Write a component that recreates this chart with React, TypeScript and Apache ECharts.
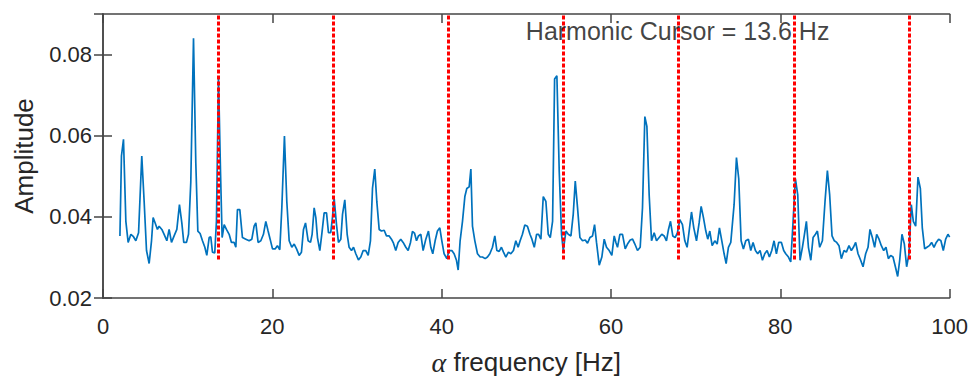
import React, { useEffect, useRef } from "react";
import * as echarts from "echarts";

const freq: number[] = [
  2.0, 2.18, 2.42, 2.7, 2.97, 3.29, 3.6, 3.88, 4.2, 4.58, 4.86, 5.14, 5.45, 5.73, 5.92, 6.16, 6.43, 6.63, 6.95, 7.22,
  7.54, 7.81, 8.09, 8.4, 8.72, 9.03, 9.31, 9.54, 9.86, 10.1, 10.37, 10.69, 10.96, 11.2, 11.47, 11.75, 12.03, 12.26, 12.54, 12.73,
  12.93, 13.2, 13.4, 13.64, 13.88, 14.07, 14.31, 14.58, 14.9, 15.17, 15.49, 15.69, 15.88, 16.16, 16.47, 16.87, 17.26, 17.58, 17.85, 18.05,
  18.32, 18.64, 18.95, 19.23, 19.5, 19.74, 20.02, 20.33, 20.6, 20.88, 21.12, 21.43, 21.71, 21.99, 22.3, 22.58, 22.86, 23.17, 23.44, 23.68,
  23.92, 24.23, 24.51, 24.7, 24.94, 25.14, 25.33, 25.61, 25.84, 26.12, 26.4, 26.63, 26.9, 27.1, 27.3, 27.58, 27.81, 28.09, 28.29, 28.56,
  28.84, 29.07, 29.35, 29.59, 29.86, 30.17, 30.45, 30.73, 31.04, 31.32, 31.59, 31.83, 32.1, 32.34, 32.62, 32.89, 33.21, 33.48, 33.8, 34.07,
  34.31, 34.58, 34.86, 35.17, 35.45, 35.77, 36.04, 36.32, 36.55, 36.79, 37.03, 37.26, 37.54, 37.81, 38.13, 38.44, 38.72, 38.95, 39.23, 39.5,
  39.78, 40.02, 40.29, 40.61, 40.88, 41.2, 41.47, 41.75, 41.95, 42.18, 42.46, 42.74, 42.97, 43.25, 43.45, 43.64, 43.92, 44.23, 44.55, 44.82,
  45.14, 45.41, 45.69, 46.0, 46.28, 46.52, 46.79, 47.06, 47.3, 47.58, 47.89, 48.17, 48.48, 48.76, 49.03, 49.27, 49.54, 49.82, 50.13, 50.43,
  50.66, 50.94, 51.21, 51.45, 51.72, 52.0, 52.31, 52.59, 52.83, 53.1, 53.34, 53.61, 53.89, 54.16, 54.36, 54.68, 54.95, 55.27, 55.54, 55.78,
  56.05, 56.33, 56.64, 56.96, 57.23, 57.51, 57.82, 58.06, 58.29, 58.61, 58.92, 59.2, 59.47, 59.79, 60.1, 60.38, 60.58, 60.77, 61.05, 61.36,
  61.68, 61.95, 62.27, 62.55, 62.82, 63.13, 63.45, 63.72, 64.0, 64.24, 64.51, 64.79, 65.1, 65.38, 65.69, 66.0, 66.28, 66.55, 66.79, 67.03,
  67.3, 67.58, 67.85, 68.13, 68.44, 68.72, 68.99, 69.23, 69.51, 69.78, 70.1, 70.41, 70.65, 70.92, 71.2, 71.43, 71.67, 71.95, 72.26, 72.54,
  72.81, 73.09, 73.36, 73.6, 73.87, 74.15, 74.54, 74.82, 75.09, 75.37, 75.64, 75.92, 76.23, 76.51, 76.78, 77.06, 77.33, 77.61, 77.89, 78.16,
  78.44, 78.71, 78.99, 79.26, 79.54, 79.81, 80.13, 80.4, 80.64, 80.96, 81.23, 81.51, 81.78, 82.06, 82.33, 82.61, 82.85, 83.08, 83.32, 83.6,
  83.87, 84.15, 84.38, 84.65, 84.97, 85.28, 85.56, 85.83, 86.11, 86.38, 86.66, 86.93, 87.21, 87.52, 87.8, 88.11, 88.39, 88.63, 88.9, 89.18,
  89.49, 89.77, 90.08, 90.36, 90.59, 90.87, 91.14, 91.38, 91.66, 91.93, 92.21, 92.48, 92.76, 93.03, 93.31, 93.59, 93.86, 94.1, 94.37, 94.65,
  94.92, 95.2, 95.47, 95.71, 95.99, 96.26, 96.54, 96.77, 97.05, 97.32, 97.6, 97.87, 98.15, 98.42, 98.7, 98.97, 99.25, 99.53, 99.8, 100.0,
];

const amplitude: number[] = [
  0.0353, 0.055, 0.0591, 0.0389, 0.0337, 0.0357, 0.0351, 0.0341, 0.0361, 0.055, 0.0438, 0.0317, 0.0285, 0.0341, 0.0398, 0.0385, 0.0369, 0.0377, 0.0369, 0.0357,
  0.0341, 0.0369, 0.0337, 0.0353, 0.0369, 0.043, 0.0385, 0.0337, 0.0337, 0.0357, 0.0486, 0.084, 0.0534, 0.0365, 0.0359, 0.0341, 0.0325, 0.0305, 0.0349, 0.0351,
  0.0313, 0.0311, 0.0389, 0.0744, 0.051, 0.0349, 0.0381, 0.0369, 0.0357, 0.0337, 0.0337, 0.0325, 0.0418, 0.0418, 0.0349, 0.0345, 0.0341, 0.0345, 0.0377, 0.0385,
  0.0337, 0.0341, 0.0357, 0.0389, 0.0365, 0.0345, 0.0321, 0.0321, 0.0329, 0.0319, 0.0422, 0.0599, 0.0438, 0.0341, 0.0325, 0.0333, 0.0321, 0.0305, 0.0313, 0.0369,
  0.0385, 0.0341, 0.0337, 0.0357, 0.0422, 0.0398, 0.0349, 0.0317, 0.0357, 0.041, 0.041, 0.0361, 0.0361, 0.0398, 0.0446, 0.0381, 0.0337, 0.0345, 0.0406, 0.0442,
  0.0357, 0.0325, 0.0317, 0.0325, 0.0309, 0.0294, 0.0301, 0.0317, 0.0317, 0.0305, 0.0341, 0.047, 0.0518, 0.0438, 0.0369, 0.0365, 0.0367, 0.0353, 0.0353, 0.0345,
  0.0335, 0.0317, 0.0337, 0.0345, 0.0337, 0.0325, 0.0317, 0.0337, 0.0364, 0.036, 0.0341, 0.0353, 0.0357, 0.0317, 0.0345, 0.0365, 0.0325, 0.0309, 0.0341, 0.0365,
  0.0373, 0.0341, 0.0309, 0.0297, 0.0317, 0.0317, 0.0309, 0.0293, 0.0269, 0.0341, 0.0389, 0.045, 0.047, 0.0474, 0.0518, 0.0377, 0.0341, 0.0309, 0.0301, 0.0301,
  0.0297, 0.0301, 0.0309, 0.0325, 0.0353, 0.0317, 0.0315, 0.0325, 0.0313, 0.0301, 0.0313, 0.0309, 0.0317, 0.0341, 0.0325, 0.0341, 0.0357, 0.038, 0.0377, 0.0357,
  0.0345, 0.0325, 0.0357, 0.0357, 0.0345, 0.045, 0.0438, 0.0357, 0.0349, 0.0389, 0.074, 0.0748, 0.051, 0.0357, 0.0317, 0.0365, 0.0357, 0.0353, 0.0406, 0.0488,
  0.0422, 0.0349, 0.0341, 0.0343, 0.0335, 0.0349, 0.0353, 0.0381, 0.0337, 0.0281, 0.0301, 0.0345, 0.0325, 0.0317, 0.0305, 0.0353, 0.0337, 0.0325, 0.0357, 0.0357,
  0.0321, 0.0333, 0.0343, 0.0345, 0.0333, 0.0317, 0.0325, 0.0422, 0.0647, 0.0623, 0.0454, 0.0341, 0.0361, 0.0341, 0.0349, 0.0357, 0.0353, 0.0341, 0.0369, 0.0389,
  0.0353, 0.0349, 0.0361, 0.0393, 0.0381, 0.0341, 0.0325, 0.0365, 0.0412, 0.0373, 0.0341, 0.0385, 0.0426, 0.0398, 0.0365, 0.0345, 0.0365, 0.0329, 0.0341, 0.0333,
  0.0373, 0.0341, 0.0309, 0.0285, 0.0325, 0.0337, 0.043, 0.0546, 0.0494, 0.0341, 0.0321, 0.0341, 0.0345, 0.0317, 0.0337, 0.0317, 0.0309, 0.0317, 0.0293, 0.0309,
  0.0317, 0.0301, 0.0317, 0.0341, 0.0309, 0.0337, 0.0337, 0.0317, 0.0309, 0.0301, 0.0289, 0.0389, 0.0494, 0.0454, 0.0293, 0.0325, 0.0357, 0.0389, 0.0325, 0.0293,
  0.0349, 0.0357, 0.0365, 0.0325, 0.0341, 0.0438, 0.0514, 0.0454, 0.0353, 0.0341, 0.0337, 0.0329, 0.0297, 0.0317, 0.0313, 0.0329, 0.0317, 0.0325, 0.0337, 0.0309,
  0.0293, 0.0277, 0.0309, 0.0325, 0.0369, 0.0349, 0.0325, 0.0357, 0.0345, 0.0329, 0.0317, 0.0325, 0.0297, 0.0305, 0.0301, 0.0277, 0.0253, 0.0293, 0.0357, 0.0333,
  0.0277, 0.0309, 0.043, 0.0389, 0.0377, 0.0498, 0.047, 0.0373, 0.0321, 0.0325, 0.0329, 0.0337, 0.0325, 0.0337, 0.0345, 0.0341, 0.0317, 0.0345, 0.0357, 0.035,
];

const cursorHz = 13.6;
const harmonics: number[] = [13.6, 27.2, 40.8, 54.4, 68.0, 81.6, 95.2];
const cursorLineRange: [number, number] = [0.0295, 0.09];
const xTicks = { min: 0, max: 100, interval: 20 };
const yTicks = { min: 0.02, max: 0.09, interval: 0.02 };
const annotationPos: [number, number] = [50, 0.0858];
const annotationText = `Harmonic Cursor = ${cursorHz} Hz`;

const FONT = "'Liberation Sans', Arial, Helvetica, sans-serif";
const AXIS_COLOR = "#454545";
const TEXT_COLOR = "#262626";

export default function App() {
  const ref = useRef<HTMLDivElement>(null);

  useEffect(() => {
    if (!ref.current) return;
    const chart = echarts.init(ref.current, undefined, { renderer: "svg" });

    const lineData = freq.map((f, i) => [f, amplitude[i]]);
    const axisLine = { show: true, lineStyle: { color: AXIS_COLOR, width: 1.5 } };
    const axisTick = { show: true, inside: true, length: 9, lineStyle: { color: AXIS_COLOR, width: 1.5 } };

    chart.setOption({
      animation: false,
      backgroundColor: "#ffffff",
      textStyle: { fontFamily: FONT },
      grid: { left: 103, right: 20, top: 14, bottom: 78, containLabel: false },
      xAxis: [
        {
          type: "value",
          position: "bottom",
          min: xTicks.min,
          max: xTicks.max,
          interval: xTicks.interval,
          axisLine,
          axisTick,
          splitLine: { show: false },
          axisLabel: { color: TEXT_COLOR, fontSize: 22, fontFamily: FONT, margin: 17 },
          name: "{a|α} frequency [Hz]",
          nameLocation: "middle",
          nameGap: 50,
          nameTextStyle: {
            color: TEXT_COLOR,
            fontSize: 26,
            fontFamily: FONT,
            rich: {
              a: { fontFamily: "'Liberation Serif', 'DejaVu Serif', serif", fontStyle: "italic", fontSize: 28, color: TEXT_COLOR },
            },
          },
        },
        {
          type: "value",
          position: "top",
          min: xTicks.min,
          max: xTicks.max,
          interval: xTicks.interval,
          axisLine,
          axisTick,
          splitLine: { show: false },
          axisLabel: { show: false },
        },
      ],
      yAxis: [
        {
          type: "value",
          position: "left",
          min: yTicks.min,
          max: yTicks.max,
          interval: yTicks.interval,
          axisLine,
          axisTick,
          splitLine: { show: false },
          axisLabel: {
            color: TEXT_COLOR,
            fontSize: 22,
            fontFamily: FONT,
            margin: 11,
            showMaxLabel: false,
            formatter: (v: number) => v.toFixed(2),
          },
          name: "Amplitude",
          nameLocation: "middle",
          nameGap: 66,
          nameRotate: 90,
          nameTextStyle: { color: TEXT_COLOR, fontSize: 26, fontFamily: FONT },
        },
        {
          type: "value",
          position: "right",
          min: yTicks.min,
          max: yTicks.max,
          interval: yTicks.interval,
          axisLine,
          axisTick,
          splitLine: { show: false },
          axisLabel: { show: false },
        },
      ],
      series: [
        {
          type: "line",
          data: lineData,
          showSymbol: false,
          symbol: "none",
          lineStyle: { color: "#0072BD", width: 1.7 },
          z: 2,
          markLine: {
            silent: true,
            symbol: ["none", "none"],
            label: { show: false },
            lineStyle: { color: "#ff0000", width: 3, type: [4, 2], opacity: 1 },
            data: harmonics.map((h) => [
              { coord: [h, cursorLineRange[0]] },
              { coord: [h, cursorLineRange[1]] },
            ]),
            z: 5,
          },
        },
        {
          type: "scatter",
          data: [annotationPos],
          symbolSize: 1,
          itemStyle: { color: "rgba(0,0,0,0)" },
          silent: true,
          z: 10,
          label: {
            show: true,
            position: [0, 0],
            align: "left",
            verticalAlign: "middle",
            formatter: () => annotationText,
            color: "#111111",
            fontSize: 25,
            fontFamily: FONT,
          },
        },
      ],
    });

    return () => chart.dispose();
  }, []);

  return (
    <div
      ref={ref}
      style={{ position: "fixed", left: 0, top: 0, width: 971, height: 381, background: "#fff" }}
    />
  );
}
